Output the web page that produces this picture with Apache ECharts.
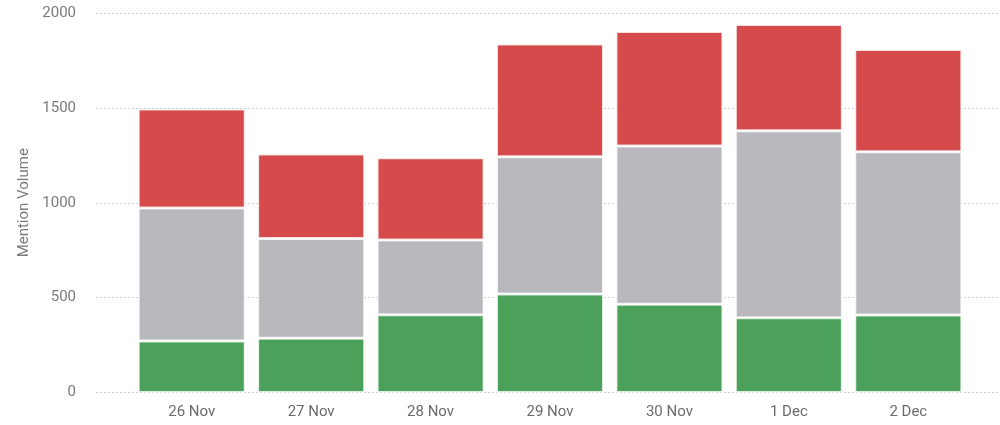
<!DOCTYPE html>
<html>
<head>
<meta charset="utf-8">
<script src="https://cdn.jsdelivr.net/npm/echarts@6/dist/echarts.min.js"></script>
<style>
  html, body { margin: 0; padding: 0; background: #fff; }
  #chart { width: 1000px; height: 425px; }
</style>
</head>
<body>
<div id="chart"></div>
<script>
const days = ["26 Nov", "27 Nov", "28 Nov", "29 Nov", "30 Nov", "1 Dec", "2 Dec"];
const positive = [271, 286, 410, 519, 465, 394, 408];
const neutral = [701, 525, 394, 724, 834, 986, 861];
const negative = [522, 446, 433, 594, 604, 560, 538];
const yTicks = [0, 500, 1000, 1500, 2000];

const FONT = "Roboto, 'Noto Sans', sans-serif";
const segBorder = { borderColor: "rgba(255,255,255,0.75)", borderWidth: 1.5 };

function stackBar(name, data, color) {
  return {
    name,
    type: "bar",
    stack: "mentions",
    xAxisIndex: 1,
    yAxisIndex: 1,
    barWidth: 107,
    data,
    itemStyle: { color, ...segBorder },
    emphasis: { disabled: true }
  };
}

const chart = echarts.init(document.getElementById("chart"));
chart.setOption({
  animation: false,
  textStyle: { fontFamily: FONT },
  grid: [
    // wide grid only carries the y labels and dotted guides
    { left: 96, right: 0, top: 13, bottom: 32.5 },
    { left: 132, right: 32, top: 13, bottom: 32.5 }
  ],
  xAxis: [
    { gridIndex: 0, type: "value", show: false, min: 0, max: 1 },
    {
      gridIndex: 1,
      type: "category",
      data: days,
      axisLine: { show: false },
      axisTick: { show: false },
      axisLabel: { color: "#6b6b6b", fontSize: 15, margin: 12, fontFamily: FONT }
    }
  ],
  yAxis: [
    {
      gridIndex: 0,
      type: "value",
      min: yTicks[0],
      max: yTicks[yTicks.length - 1],
      interval: 500,
      name: "Mention Volume",
      nameLocation: "middle",
      nameGap: 64,
      nameTextStyle: { color: "#7a7a7a", fontSize: 15, fontFamily: FONT },
      axisLine: { show: false },
      axisTick: { show: false },
      axisLabel: {
        color: "#7a7a7a", fontSize: 15, margin: 20, fontFamily: FONT,
        formatter: v => String(v)
      },
      splitLine: { lineStyle: { color: "#c9cfdc", type: [2, 2], width: 1 } }
    },
    {
      gridIndex: 1,
      type: "value",
      min: yTicks[0],
      max: yTicks[yTicks.length - 1],
      show: false
    }
  ],
  series: [
    stackBar("Positive", positive, "#4ba15a"),
    stackBar("Neutral", neutral, "#b9b8bd"),
    stackBar("Negative", negative, "#d54b4b")
  ]
});
</script>
</body>
</html>
